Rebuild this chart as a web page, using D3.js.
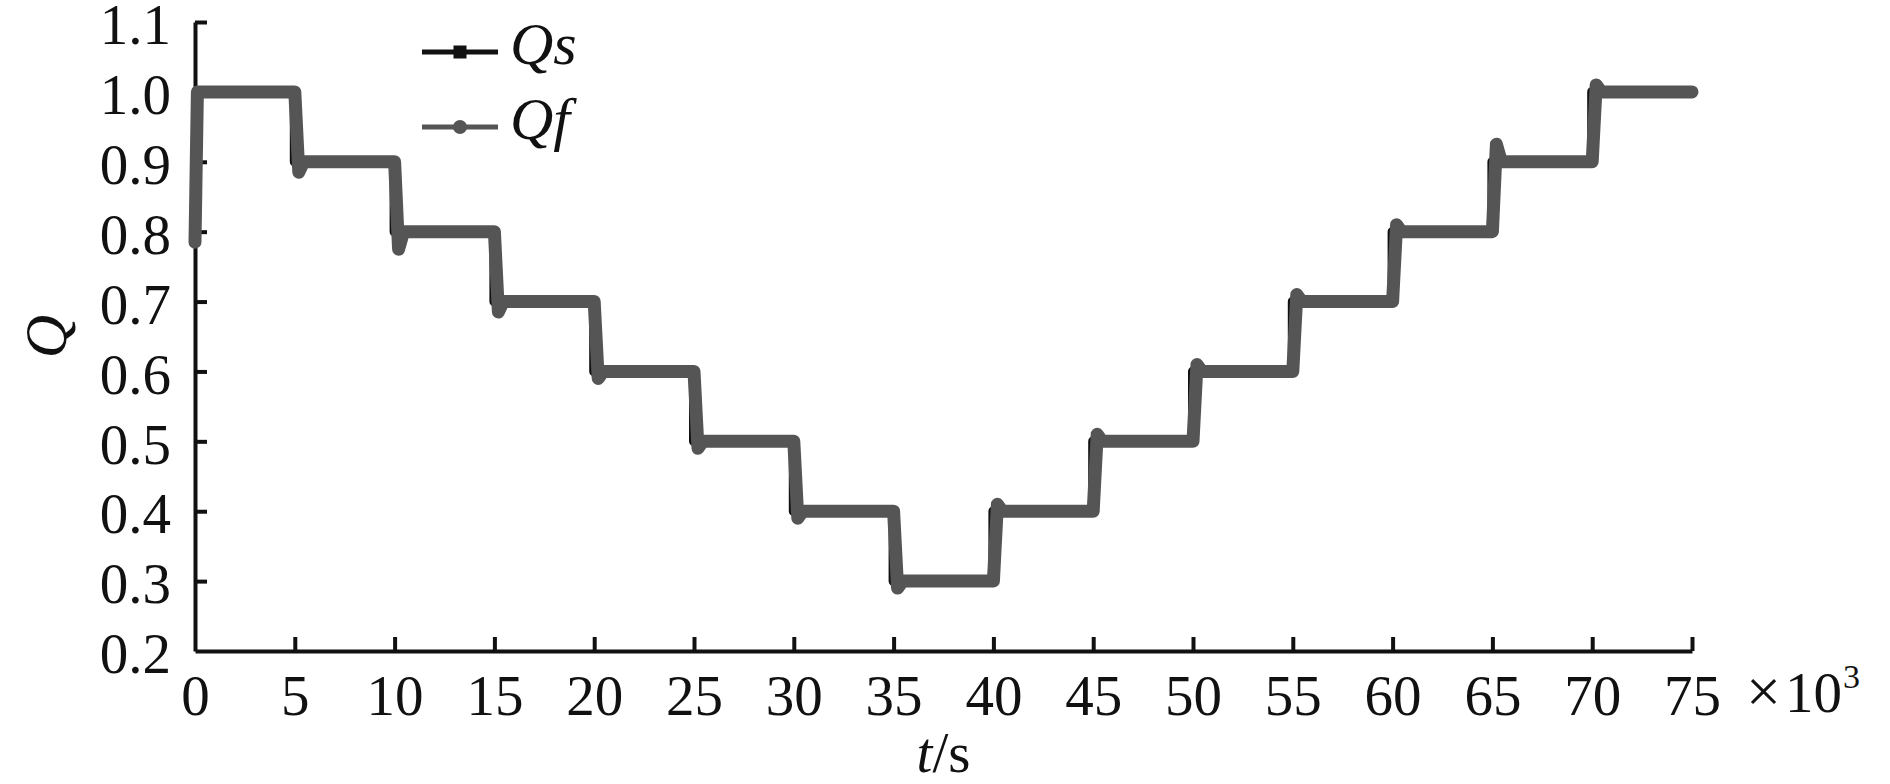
<!DOCTYPE html>
<html>
<head>
<meta charset="utf-8">
<script src="https://cdn.jsdelivr.net/npm/d3@7"></script>
<style>
  html, body { margin: 0; padding: 0; background: #fff; }
  svg { display: block; }
  text { font-family: "Liberation Serif", "Times New Roman", serif; fill: #111; }
</style>
</head>
<body>
<svg id="chart" width="1890" height="784"></svg>
<script>
// ---- data (time in 10^3 s) ----
const xTicks = [0, 5, 10, 15, 20, 25, 30, 35, 40, 45, 50, 55, 60, 65, 70, 75];
const yTicks = [0.2, 0.3, 0.4, 0.5, 0.6, 0.7, 0.8, 0.9, 1.0, 1.1];
const yTickLabels = ["0.2", "0.3", "0.4", "0.5", "0.6", "0.7", "0.8", "0.9", "1.0", "1.1"];

// Qs : set-point step series (value holds until next time)
const qsTimes  = [0, 5, 10, 15, 20, 25, 30, 35, 40, 45, 50, 55, 60, 65, 70, 75];
const qsValues = [1.0, 0.9, 0.8, 0.7, 0.6, 0.5, 0.4, 0.3, 0.4, 0.5, 0.6, 0.7, 0.8, 0.9, 1.0, 1.0];

// Qf : measured response with small under/overshoot at each step
const qfTimes = [0, 0.12,
  5.0, 5.2, 5.45, 10.0, 10.2, 10.45, 15.0, 15.2, 15.45, 20.0, 20.2, 20.45,
  25.0, 25.2, 25.45, 30.0, 30.2, 30.45, 35.0, 35.2, 35.45, 40.0, 40.2, 40.45,
  45.0, 45.2, 45.45, 50.0, 50.2, 50.45, 55.0, 55.2, 55.45, 60.0, 60.2, 60.45,
  65.0, 65.2, 65.45, 70.0, 70.2, 70.45, 75.0];
const qfValues = [0.785, 1.0,
  1.0, 0.885, 0.9, 0.9, 0.775, 0.8, 0.8, 0.685, 0.7, 0.7, 0.59, 0.6,
  0.6, 0.49, 0.5, 0.5, 0.39, 0.4, 0.4, 0.29, 0.3, 0.3, 0.41, 0.4,
  0.4, 0.51, 0.5, 0.5, 0.61, 0.6, 0.6, 0.71, 0.7, 0.7, 0.81, 0.8,
  0.8, 0.925, 0.9, 0.9, 1.01, 1.0, 1.0];

const seriesNames = ["Qs", "Qf"];
const seriesColors = ["#111111", "#555555"];

// ---- layout ----
const svg = d3.select("#chart");
const margin = { left: 195, right: 198, top: 22, bottom: 133 };
const W = 1890, H = 784;
const x = d3.scaleLinear().domain([0, 75]).range([margin.left, W - margin.right]);
const y = d3.scaleLinear().domain([0.2, 1.1]).range([H - margin.bottom, margin.top]);

const fontSize = 57;
const serif = '"Liberation Serif", "Times New Roman", serif';

// ---- axes ----
const xAxis = d3.axisBottom(x).tickValues(xTicks).tickSizeInner(-14).tickSizeOuter(0).tickPadding(24)
  .tickFormat(d => d);
const gx = svg.append("g").attr("transform", `translate(0,${y(0.2)})`).call(xAxis);
gx.select(".domain").attr("stroke", "#111").attr("stroke-width", 4);
gx.selectAll(".tick line").attr("stroke", "#111").attr("stroke-width", 4);
gx.selectAll(".tick").filter(d => d === 0).select("line").remove();
gx.selectAll(".tick text").attr("font-size", fontSize).attr("fill", "#111").style("font-family", serif);

const yAxis = d3.axisLeft(y).tickValues(yTicks).tickSizeInner(-12).tickSizeOuter(0).tickPadding(24)
  .tickFormat((d, i) => yTickLabels[i]);
const gy = svg.append("g").attr("transform", `translate(${x(0)},0)`).call(yAxis);
gy.select(".domain").attr("stroke", "#111").attr("stroke-width", 4);
gy.selectAll(".tick line").attr("stroke", "#111").attr("stroke-width", 4);
gy.selectAll(".tick").filter(d => d === 0.2).select("line").remove();
gy.selectAll(".tick text").attr("font-size", fontSize).attr("fill", "#111").style("font-family", serif)
  .attr("dy", "0.38em");

// axis titles
svg.append("text").attr("x", x(37.5)).attr("y", 772).attr("text-anchor", "middle")
  .attr("font-size", fontSize).style("font-family", serif)
  .html('<tspan font-style="italic">t</tspan>/s');

svg.append("text").attr("transform", `translate(66,${y(0.65)}) rotate(-90)`)
  .attr("text-anchor", "middle").attr("font-size", 60).attr("font-style", "italic")
  .style("font-family", serif).text("Q");

// multiplier
svg.append("text").attr("x", 1746).attr("y", 712).attr("font-size", fontSize).style("font-family", serif)
  .html('<tspan font-size="62">×</tspan><tspan dx="4">10</tspan><tspan font-size="34" dy="-24" dx="1">3</tspan>');

// ---- series ----
const qsData = qsTimes.map((t, i) => ({ t, v: qsValues[i] }));
const qfData = qfTimes.map((t, i) => ({ t, v: qfValues[i] }));

const stepLine = d3.line().x(d => x(d.t)).y(d => y(d.v)).curve(d3.curveStepAfter);
const plainLine = d3.line().x(d => x(d.t)).y(d => y(d.v));

svg.append("path").datum(qsData).attr("d", stepLine)
  .attr("fill", "none").attr("stroke", seriesColors[0]).attr("stroke-width", 10)
  .attr("stroke-linejoin", "round");

svg.append("path").datum(qfData).attr("d", plainLine)
  .attr("fill", "none").attr("stroke", seriesColors[1]).attr("stroke-width", 13)
  .attr("stroke-linejoin", "round").attr("stroke-linecap", "round");

// ---- legend ----
const legendY = [52, 127];
const lg = svg.append("g");
seriesNames.forEach((name, i) => {
  const yy = legendY[i];
  lg.append("line").attr("x1", 422).attr("x2", 498).attr("y1", yy).attr("y2", yy)
    .attr("stroke", seriesColors[i]).attr("stroke-width", 5);
  if (i === 0) {
    lg.append("rect").attr("x", 460 - 6.5).attr("y", yy - 6.5).attr("width", 13).attr("height", 13)
      .attr("fill", seriesColors[i]);
  } else {
    lg.append("circle").attr("cx", 460).attr("cy", yy).attr("r", 7).attr("fill", seriesColors[i]);
  }
  lg.append("text").attr("x", 510).attr("y", yy + 12).attr("font-size", 60)
    .attr("font-style", "italic").style("font-family", serif).text(name);
});
</script>
</body>
</html>
